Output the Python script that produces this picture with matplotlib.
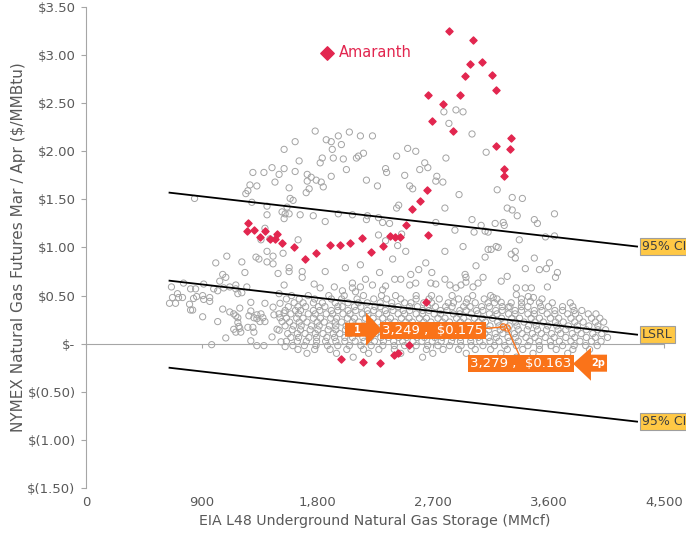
import matplotlib.pyplot as plt
from matplotlib.patches import Polygon

# colours
GREY = '#A3A3A3'
RED = '#E2264F'
ORANGE = '#FA7319'
GOLD = '#FFC845'
TXT = '#595959'
AXC = '#A6A6A6'

# grey points away from the main band: (storage MMcf, spread $/MMBtu)
other_pts = [
    (845, 1.51), (1291, 1.47), (1409, 1.43), (1409, 1.34), (1244, 1.56), (1260, 1.59),
    (1276, 1.65), (1330, 1.64), (1299, 1.78), (1385, 1.78), (1448, 1.83), (1503, 1.76),
    (1471, 1.68), (1542, 1.82), (1542, 2.02), (1526, 1.37), (1542, 1.30), (1393, 1.20),
    (1362, 1.08), (1432, 1.09),
    (1784, 2.21), (1628, 2.10), (1870, 2.12), (1909, 2.10), (1964, 2.16), (1988, 2.07),
    (2050, 2.20), (2136, 2.16), (2230, 2.16), (1917, 2.02), (1659, 1.90), (1823, 1.88),
    (1839, 1.93), (1925, 1.93), (2003, 1.92), (2105, 1.93), (2121, 1.95), (2160, 1.98),
    (1628, 1.79), (1722, 1.76), (1753, 1.73), (1792, 1.70), (1831, 1.68), (1847, 1.63),
    (1722, 1.69), (1737, 1.61), (1714, 1.57), (1909, 1.74), (2027, 1.81), (1581, 1.62),
    (1589, 1.51), (1612, 1.49), (1565, 1.42), (1550, 1.35), (1581, 1.35), (1667, 1.34),
    (1769, 1.33), (1862, 1.27), (1964, 1.35), (2074, 1.34), (2183, 1.29), (2191, 1.33),
    (2277, 1.31), (2309, 1.26), (2363, 1.25), (2183, 1.70), (2269, 1.64), (2332, 1.82),
    (2340, 1.78), (2418, 1.95), (2504, 2.03), (2567, 2.00), (2481, 1.75), (2520, 1.64),
    (2543, 1.61), (2418, 1.41), (2434, 1.44), (2598, 1.81), (2637, 1.88), (2661, 1.83),
    (2723, 1.69), (2731, 1.74), (2778, 1.68), (2802, 1.93), (2786, 2.41), (2880, 2.43),
    (2935, 2.41), (2825, 2.29), (3005, 2.18), (2904, 1.55), (2794, 1.41), (2723, 1.26),
    (2872, 1.18), (3005, 1.29), (3021, 1.16), (3076, 1.23), (1651, 1.08), (2277, 1.13),
    (2332, 1.07), (2426, 1.02), (2457, 1.14), (2935, 1.01),
    (3115, 1.99), (3201, 1.60), (3318, 1.52), (3397, 1.51), (3279, 1.41), (3318, 1.39),
    (3357, 1.33), (3490, 1.29), (3514, 1.25), (3647, 1.35), (3185, 1.25), (3248, 1.26),
    (3256, 1.23), (3107, 1.17), (3130, 1.16), (3373, 1.08), (3577, 1.11), (3647, 1.12),
    (3193, 1.01),
    (665, 0.59), (759, 0.63), (650, 0.42), (673, 0.48), (712, 0.52), (697, 0.42),
    (751, 0.48), (720, 0.48), (814, 0.57), (853, 0.57), (806, 0.41), (814, 0.35),
    (830, 0.35), (837, 0.47), (861, 0.49), (908, 0.50), (916, 0.46), (963, 0.48),
    (963, 0.44), (908, 0.28), (916, 0.62), (994, 0.57), (1025, 0.55), (1010, 0.84),
    (1096, 0.91), (1213, 0.85), (1237, 0.74), (1323, 0.90), (1346, 0.88), (1409, 0.96),
    (1456, 0.91), (1409, 0.85), (1456, 0.83), (1495, 0.73), (1041, 0.65), (1064, 0.72),
    (1088, 0.69), (1072, 0.58), (1119, 0.59), (1166, 0.61), (1166, 0.57), (1182, 0.52),
    (1213, 0.53), (1252, 0.59), (1064, 0.36), (1025, 0.23), (1088, 0.06), (978, -0.01),
    (1119, 0.33), (1150, 0.31), (1166, 0.29), (1182, 0.27), (1197, 0.37), (1182, 0.22),
    (1190, 0.18), (1150, 0.15), (1166, 0.12), (1205, 0.12), (1197, 0.16), (1283, 0.43),
    (1283, 0.34), (1268, 0.29), (1260, 0.17), (1299, 0.17), (1307, 0.12), (1283, 0.03),
    (1330, -0.02), (1385, -0.02), (1330, 0.30), (1362, 0.31), (1377, 0.27), (1354, 0.23),
    (1393, 0.23), (1330, 0.26), (1307, 0.27), (1393, 0.42), (1456, 0.38), (1510, 0.42),
    (1463, 0.30), (1503, 0.31), (1510, 0.27), (1542, 0.32), (1526, 0.23), (1487, 0.15),
    (1503, 0.14), (1448, 0.07), (1518, 0.02), (1550, -0.03), (1503, 0.52), (1542, 0.61),
    (1534, 0.94),
    (1581, 0.79), (1581, 0.75), (1683, 0.75), (1683, 0.69), (1862, 0.75), (2019, 0.79),
    (2136, 0.82), (2285, 0.74), (2387, 0.88), (2489, 0.96), (2645, 0.84), (2590, 0.77),
    (2528, 0.72), (2794, 0.96), (3036, 0.81), (2951, 0.72), (2958, 0.69), (2692, 0.74),
    (1776, 0.62), (1823, 0.58), (1933, 0.59), (1996, 0.55), (2074, 0.63), (2074, 0.58),
    (2098, 0.54), (2136, 0.59), (2176, 0.67), (2230, 0.61), (2309, 0.56), (2332, 0.60),
    (2403, 0.67), (2450, 0.67), (2520, 0.61), (2567, 0.63), (2684, 0.63), (2723, 0.62),
    (2794, 0.67), (2833, 0.61), (2880, 0.58), (2919, 0.61), (2958, 0.64), (3013, 0.59),
    (3052, 0.63),
    (3130, 0.98), (3154, 0.98), (3209, 1.00), (3107, 0.90), (3310, 0.93), (3342, 0.96),
    (3342, 0.89), (3490, 0.89), (3608, 0.84), (3584, 0.78), (3530, 0.77), (3420, 0.78),
    (3670, 0.74), (3655, 0.69), (3592, 0.59), (3091, 0.69), (3232, 0.65), (3279, 0.70),
    (3350, 0.58), (3350, 0.51), (3420, 0.58), (3467, 0.58), (3443, 0.49), (3483, 0.48),
    (3459, 0.44), (3170, 0.48), (3232, 0.43), (3287, 0.38),
]

# dense band of points near zero, one row of storage values per spread level
band_levels = [0.50, 0.465, 0.425, 0.385, 0.345, 0.31, 0.265, 0.225, 0.185,
               0.145, 0.105, 0.065, 0.025, -0.02, -0.06, -0.10, -0.14]
band_rows = [
    [1600, 1730, 1890, 2010, 2160, 2300, 2410, 2570, 2690, 2850, 3010, 3150],
    [1560, 1660, 1780, 1910, 1990, 2110, 2240, 2340, 2450, 2570, 2670, 2750, 2900, 2970,
     3100, 3200, 3390, 3550],
    [1620, 1690, 1770, 1840, 1940, 2040, 2120, 2190, 2290, 2380, 2480, 2530, 2630, 2690,
     2820, 2860, 2960, 3030, 3130, 3180, 3310, 3390, 3530, 3630, 3770],
    [1575, 1650, 1710, 1810, 1860, 1960, 1995, 2090, 2140, 2250, 2290, 2380, 2430, 2520,
     2580, 2660, 2720, 2800, 2850, 2940, 2990, 3080, 3140, 3240, 3300, 3390, 3440, 3540,
     3600, 3710, 3790],
    [1550, 1630, 1670, 1770, 1820, 1910, 1960, 2040, 2100, 2190, 2240, 2330, 2390, 2470,
     2520, 2620, 2670, 2760, 2810, 2910, 2960, 3040, 3090, 3190, 3240, 3340, 3390, 3490,
     3550, 3650, 3710, 3800, 3860],
    [1595, 1655, 1730, 1785, 1870, 1920, 2000, 2055, 2150, 2195, 2280, 2340, 2430, 2480,
     2570, 2620, 2710, 2760, 2860, 2910, 3000, 3050, 3140, 3200, 3290, 3340, 3440, 3490,
     3590, 3650, 3750, 3810, 3910, 3970],
    [1560, 1640, 1690, 1770, 1825, 1905, 1950, 2035, 2090, 2175, 2235, 2310, 2370, 2455,
     2515, 2595, 2650, 2740, 2795, 2885, 2940, 3025, 3085, 3165, 3235, 3315, 3375, 3465,
     3530, 3615, 3680, 3775, 3840, 3935, 4000],
    [1585, 1660, 1720, 1800, 1855, 1940, 1990, 2075, 2125, 2215, 2270, 2355, 2405, 2490,
     2540, 2630, 2685, 2775, 2830, 2915, 2975, 3055, 3110, 3205, 3260, 3345, 3410, 3495,
     3560, 3655, 3715, 3805, 3870, 3965, 4030],
    [1550, 1615, 1675, 1755, 1815, 1895, 1945, 2025, 2085, 2165, 2225, 2315, 2375, 2445,
     2505, 2585, 2645, 2725, 2785, 2865, 2935, 3005, 3065, 3145, 3215, 3295, 3355, 3445,
     3505, 3595, 3665, 3755, 3825, 3915, 3985],
    [1605, 1670, 1745, 1805, 1885, 1945, 2020, 2095, 2145, 2235, 2295, 2375, 2425, 2505,
     2565, 2645, 2705, 2795, 2855, 2935, 2995, 3075, 3135, 3225, 3285, 3365, 3435, 3515,
     3585, 3675, 3735, 3825, 3895, 3985, 4045],
    [1570, 1645, 1705, 1785, 1845, 1925, 1975, 2055, 2115, 2195, 2255, 2345, 2395, 2475,
     2535, 2615, 2675, 2755, 2815, 2895, 2965, 3045, 3105, 3185, 3245, 3335, 3395, 3475,
     3545, 3625, 3695, 3785, 3855, 3945, 4015],
    [1595, 1655, 1735, 1795, 1875, 1935, 2015, 2075, 2155, 2215, 2295, 2355, 2435, 2495,
     2575, 2635, 2715, 2775, 2855, 2915, 2995, 3055, 3135, 3195, 3285, 3345, 3425, 3495,
     3575, 3645, 3735, 3805, 3895, 3965, 4060],
    [1560, 1645, 1715, 1795, 1865, 1945, 2015, 2095, 2165, 2245, 2315, 2395, 2465, 2545,
     2615, 2695, 2765, 2845, 2915, 2995, 3065, 3145, 3215, 3295, 3365, 3455, 3525, 3615,
     3685, 3775, 3845, 3935, 4010],
    [1610, 1700, 1790, 1880, 1960, 2050, 2140, 2220, 2310, 2400, 2480, 2570, 2660, 2740,
     2830, 2920, 3000, 3090, 3180, 3260, 3350, 3440, 3530, 3620, 3710, 3800, 3890, 3980],
    [1650, 1780, 1900, 2030, 2160, 2280, 2400, 2530, 2650, 2780, 2900, 3030, 3150, 3280,
     3400, 3530, 3660, 3790, 3920],
    [1720, 1950, 2200, 2450, 2700, 2960, 3230, 3480, 3750],
    [2080, 2620, 3350],
]

# Amaranth period points
amaranth_pts = [
    (2825, 3.25), (3013, 3.16), (2990, 2.91), (3083, 2.93), (2951, 2.78), (3162, 2.79),
    (3193, 2.64), (2661, 2.59), (2778, 2.49), (2911, 2.58), (2692, 2.31), (2857, 2.21),
    (3310, 2.14), (3193, 2.06), (3302, 2.02), (3256, 1.82), (3256, 1.74), (2653, 1.60),
    (2598, 1.48), (2536, 1.40), (2489, 1.23), (2661, 1.13), (2363, 1.12), (2403, 1.11),
    (2442, 1.11), (2152, 1.10), (2058, 1.05), (1980, 1.03), (1902, 1.03), (1620, 1.01),
    (1526, 1.05), (2309, 1.02), (1706, 0.88), (1792, 0.94), (2215, 0.95), (2645, 0.43),
    (2512, -0.01), (2426, -0.10), (2395, -0.12), (1988, -0.16), (2160, -0.19), (2285, -0.20),
    (1260, 1.25), (1252, 1.17), (1307, 1.18), (1393, 1.17), (1354, 1.11), (1432, 1.09),
    (1471, 1.09), (1487, 1.14),
]

# regression line and 95% band, end points
fit_x = [650, 4290]
lsrl_y = [0.655, 0.094]
ci_hi_y = [1.57, 1.01]
ci_lo_y = [-0.25, -0.81]

# the two called-out points
pt1 = (3249, 0.175)
pt2 = (3279, 0.163)

xticks = [0, 900, 1800, 2700, 3600, 4500]
xtick_labels = ['0', '900', '1,800', '2,700', '3,600', '4,500']
yticks = [-1.5, -1.0, -0.5, 0, 0.5, 1.0, 1.5, 2.0, 2.5, 3.0, 3.5]
ytick_labels = ['$(1.50)', '$(1.00)', '$(0.50)', '$-', '$0.50', '$1.00',
                '$1.50', '$2.00', '$2.50', '$3.00', '$3.50']

band_x = [x for row in band_rows for x in row]
band_y = [lev for lev, row in zip(band_levels, band_rows) for x in row]
ox = [p[0] for p in other_pts]
oy = [p[1] for p in other_pts]
ax_ = [p[0] for p in amaranth_pts]
ay_ = [p[1] for p in amaranth_pts]

fig = plt.figure(figsize=(6.86, 5.33), dpi=100)
ax = fig.add_axes([0.1254, 0.0844, 0.8426, 0.9025])
ax.set_xlim(0, 4500)
ax.set_ylim(-1.5, 3.5)

circ = dict(s=20, facecolors='none', edgecolors=GREY, linewidths=0.7, zorder=2)
ax.scatter(band_x, band_y, **circ)
ax.scatter(ox, oy, **circ)
ax.scatter(ax_, ay_, marker='D', s=13, color=RED, zorder=4, label='Amaranth')

for yy in (ci_hi_y, lsrl_y, ci_lo_y):
    ax.plot(fit_x, yy, color='black', lw=1.3, zorder=3)

# axes styling
for s in ('top', 'right'):
    ax.spines[s].set_visible(False)
ax.spines['left'].set_color(AXC)
ax.spines['bottom'].set_color(AXC)
ax.spines['bottom'].set_position(('data', 0))
ax.set_xticks(xticks)
ax.tick_params(axis='x', length=3, color=AXC, labelbottom=False)
ax.set_yticks(yticks, labels=ytick_labels)
ax.tick_params(axis='y', length=3.5, color=AXC, labelcolor=TXT, labelsize=9.5, pad=4)
ax.set_ylabel('NYMEX Natural Gas Futures Mar / Apr ($/MMBtu)', fontsize=11,
              color=TXT)
ax.yaxis.set_label_coords(-0.104, 0.5)

sec = ax.secondary_xaxis('bottom')
sec.set_ticks(xticks, labels=xtick_labels)
sec.tick_params(length=0, labelcolor=TXT, labelsize=9.5, pad=6)
sec.spines['bottom'].set_visible(False)
sec.set_xlabel('EIA L48 Underground Natural Gas Storage (MMcf)', fontsize=10.2,
               color=TXT, labelpad=3)

# line labels
for yy, lab in ((ci_hi_y, '95% CI'), (lsrl_y, 'LSRL'), (ci_lo_y, '95% CI')):
    ax.text(fit_x[1] + 40, yy[1], lab, ha='left', va='center', fontsize=9, color='#404040',
            bbox=dict(boxstyle='square,pad=0.15', fc=GOLD, ec='#9E9E9E', lw=0.8), zorder=5)

# legend
leg = ax.legend(loc='center left', bbox_to_anchor=(0.405, 0.906), frameon=False,
                markerscale=1.9, handletextpad=0.3, borderpad=0, borderaxespad=0,
                fontsize=10.5, handlelength=1.0)
for t in leg.get_texts():
    t.set_color(RED)

# call-outs
ax.scatter([pt1[0], pt2[0]], [pt1[1], pt2[1]], s=20, facecolors='none',
           edgecolors=ORANGE, linewidths=0.8, zorder=5)
ax.plot([3091, pt1[0]], [0.156, pt1[1]], color=ORANGE, lw=1, zorder=5)
ax.plot([3371, pt2[0]], [-0.114, pt2[1]], color=ORANGE, lw=1, zorder=5)
ax.text(2701, 0.14, '3,249 ,  $0.175', ha='center', va='center', color='white',
        fontsize=9.5, zorder=6,
        bbox=dict(boxstyle='square,pad=0.15', fc=ORANGE, ec='none'))
ax.text(3386, -0.203, '3,279 ,  $0.163', ha='center', va='center', color='white',
        fontsize=9.5, zorder=6,
        bbox=dict(boxstyle='square,pad=0.15', fc=ORANGE, ec='none'))
arrow1 = Polygon([(2016, 0.218), (2180, 0.218), (2180, 0.322), (2304, 0.146),
                  (2180, -0.021), (2180, 0.073), (2016, 0.073)],
                 closed=True, fc=ORANGE, ec='none', zorder=6)
arrow2 = Polygon([(4056, -0.114), (3931, -0.114), (3931, -0.042), (3791, -0.208),
                  (3931, -0.385), (3931, -0.291), (4056, -0.291)],
                 closed=True, fc=ORANGE, ec='none', zorder=6, clip_on=False)
ax.add_patch(arrow1)
ax.add_patch(arrow2)
ax.text(2110, 0.14, '1', ha='center', va='center', color='white', fontsize=7,
        fontweight='bold', zorder=7)
ax.text(3990, -0.205, '2p', ha='center', va='center', color='white', fontsize=7,
        fontweight='bold', zorder=7)

fig.savefig('out.png', dpi=100)
